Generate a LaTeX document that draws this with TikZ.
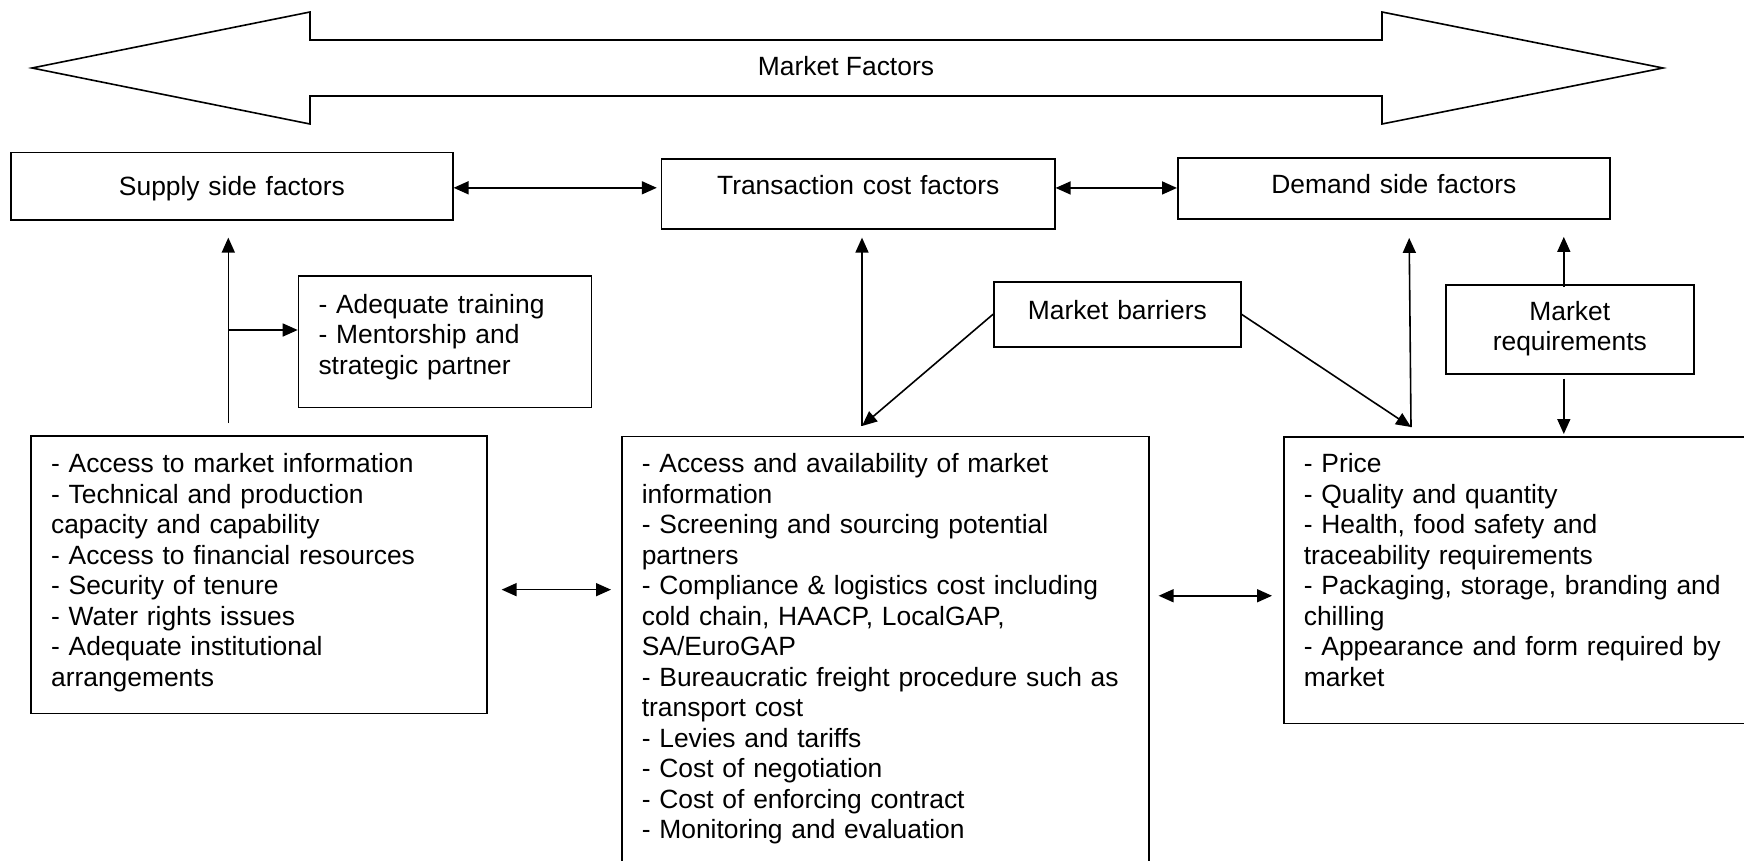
\documentclass[tikz,border=0pt]{standalone}
\usepackage{fontspec}
\setmainfont{Liberation Sans}
\usepackage{tikz}
\usetikzlibrary{arrows.meta, positioning}

\begin{document}
\begin{tikzpicture}[x=1pt, y=-1pt, line width=1.6pt,
    font=\fontsize{26.4}{30.5}\selectfont,
    >={Triangle[length=15pt,width=13pt]},
    headbox/.style={draw, anchor=north west, inner xsep=0pt, inner ysep=0pt, align=center},
    listbox/.style={draw, anchor=north west, inner xsep=20pt, inner ysep=0pt, align=left}]
  \useasboundingbox (0,0) rectangle (1744,860);
  \clip (0,0) rectangle (1744,860);

  % the big double arrow on top
  \draw (32,68) -- (310,12) -- (310,40) -- (1382,40) -- (1382,12) -- (1663,68)
        -- (1382,124) -- (1382,96) -- (310,96) -- (310,124) -- cycle;
  \node (mf) [anchor=base] at (846,75.5) {Market Factors};

  % boxes
  \node (supply) [headbox, text width=441.7pt, text height=43.5pt, text depth=24pt] at (10.3,151.5) {Supply side factors};
  \node (trans) [headbox, text width=393.2pt, text height=35.7pt, text depth=34pt] at (660.8,158.3) {Transaction cost factors};
  \node (demand) [headbox, text width=432pt, text height=35.4pt, text depth=25.6pt] at (1177,157.3) {Demand side factors};
  \node (barr) [headbox, text width=247pt, text height=37.3pt, text depth=27.7pt] at (993,281) {Market barriers};
  \node (req) [headbox, text width=248pt, text height=35.3pt, text depth=53.7pt] at (1445,284) {Market\\requirements};
  \node (adeq) [listbox, text width=253pt, text height=37.5pt, text depth=94.2pt] at (297.7,275)
    {- Adequate training\\- Mentorship and\\strategic partner};
  \node (lbox) [listbox, text width=415.7pt, text height=36.7pt, text depth=241pt] at (30.3,435)
    {- Access to market information\\
     - Technical and production\\
     capacity and capability\\
     - Access to financial resources\\
     - Security of tenure\\
     - Water rights issues\\
     - Adequate institutional\\
     arrangements};
  \node (cbox) [listbox, text width=487pt, text height=36pt, text depth=404pt] at (621,435.7)
    {- Access and availability of market\\
     information\\
     - Screening and sourcing potential\\
     partners\\
     - Compliance \& logistics cost including\\
     cold chain, HAACP, LocalGAP,\\
     SA/EuroGAP\\
     - Bureaucratic freight procedure such as\\
     transport cost\\
     - Levies and tariffs\\
     - Cost of negotiation\\
     - Cost of enforcing contract\\
     - Monitoring and evaluation};
  \node (rbox) [listbox, text width=440pt, text height=35.7pt, text depth=251pt] at (1283,436)
    {- Price\\
     - Quality and quantity\\
     - Health, food safety and\\
     traceability requirements\\
     - Packaging, storage, branding and\\
     chilling\\
     - Appearance and form required by\\
     market};

  \coordinate (lup) at (228.3,423);
  \coordinate (lbr) at (228.3,330);
  \coordinate (cin) at (862,426);
  \coordinate (din) at (1411,427);

  \begin{scope}[every edge/.style={draw=black, line width=1.6pt}]
    \path ([yshift=-1.75pt]supply.east) edge[<->, shorten >=4pt] ([yshift=-1.75pt]supply.east -| trans.west);
    \path ([yshift=6pt]trans.east) edge[<->] ([yshift=6pt]trans.east -| demand.west);
    \path (lup) edge[->, shorten >=17pt] (lup |- supply.south);
    \path (lbr) edge[->] (lbr -| adeq.west);
    \path (cin) edge[->, shorten >=8pt] (cin |- trans.south);
    \path (barr.west) edge[->] (cin);
    \path (barr.east) edge[->] (din);
    \path (din) edge[->, shorten >=18pt] ([xshift=-2pt]din |- demand.south);
    \path ([xshift=-6pt]req.north) edge[->, shorten <=-3pt, shorten >=17pt] ([xshift=-6pt]req.north |- demand.south);
    \path ([xshift=-6pt]req.south) edge[->, shorten <=4pt, shorten >=2pt] ([xshift=-6pt]req.south |- rbox.north);
    \path ([yshift=-15pt]lbox.east) edge[<->, shorten <=14pt, shorten >=10pt] ([yshift=-15pt]lbox.east -| cbox.west);
    \path ([yshift=-15.6pt]rbox.west -| cbox.east) edge[<->, shorten <=9pt, shorten >=11pt] ([yshift=-15.6pt]rbox.west);
  \end{scope}
\end{tikzpicture}
\end{document}
